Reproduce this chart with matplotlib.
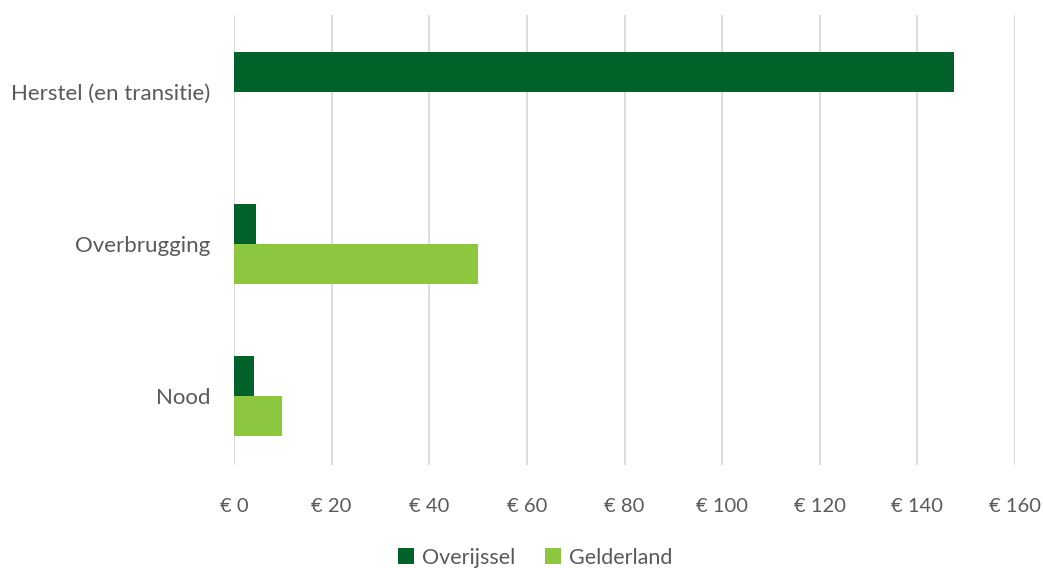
import numpy as np
import matplotlib
matplotlib.use("Agg")
import matplotlib.pyplot as plt

plt.rcParams["font.family"] = ["Lato", "DejaVu Sans"]

categories = ["Nood", "Overbrugging", "Herstel (en transitie)"]
overijssel = [4.1, 4.5, 147.5]
gelderland = [9.8, 50.0, 0.0]
series_names = ["Overijssel", "Gelderland"]
colors = ["#006229", "#8DC63F"]
xticks = [0, 20, 40, 60, 80, 100, 120, 140, 160]

text_color = "#595959"
grid_color = "#D9D9D9"

fig = plt.figure(figsize=(10.43, 5.68), dpi=100)
ax = fig.add_axes([0.2244, 0.1813, 0.7488, 0.7923])

y = np.arange(len(categories))
h = 0.263
ax.barh(y + h / 2, overijssel, height=h, color=colors[0], label=series_names[0], zorder=3)
ax.barh(y - h / 2, gelderland, height=h, color=colors[1], label=series_names[1], zorder=3)

ax.set_xlim(0, 160)
ax.set_ylim(-0.454, 2.505)
ax.set_xticks(xticks)
ax.set_xticklabels([f"€ {v}" for v in xticks])
ax.set_yticks(y)
ax.set_yticklabels(categories)

ax.grid(axis="x", color=grid_color, linewidth=1.3, zorder=0)
for s in ax.spines.values():
    s.set_visible(False)
ax.tick_params(axis="both", length=0, colors=text_color)
ax.tick_params(axis="x", pad=24, labelsize=14.5)
ax.tick_params(axis="y", pad=17, labelsize=16)

fig.legend(
    loc="center",
    bbox_to_anchor=(0.513, 0.018),
    ncol=2,
    frameon=False,
    fontsize=15.5,
    labelcolor=text_color,
    handlelength=0.75,
    handleheight=0.75,
    handletextpad=0.35,
    columnspacing=1.4,
)

fig.savefig("out.png", dpi=100)
